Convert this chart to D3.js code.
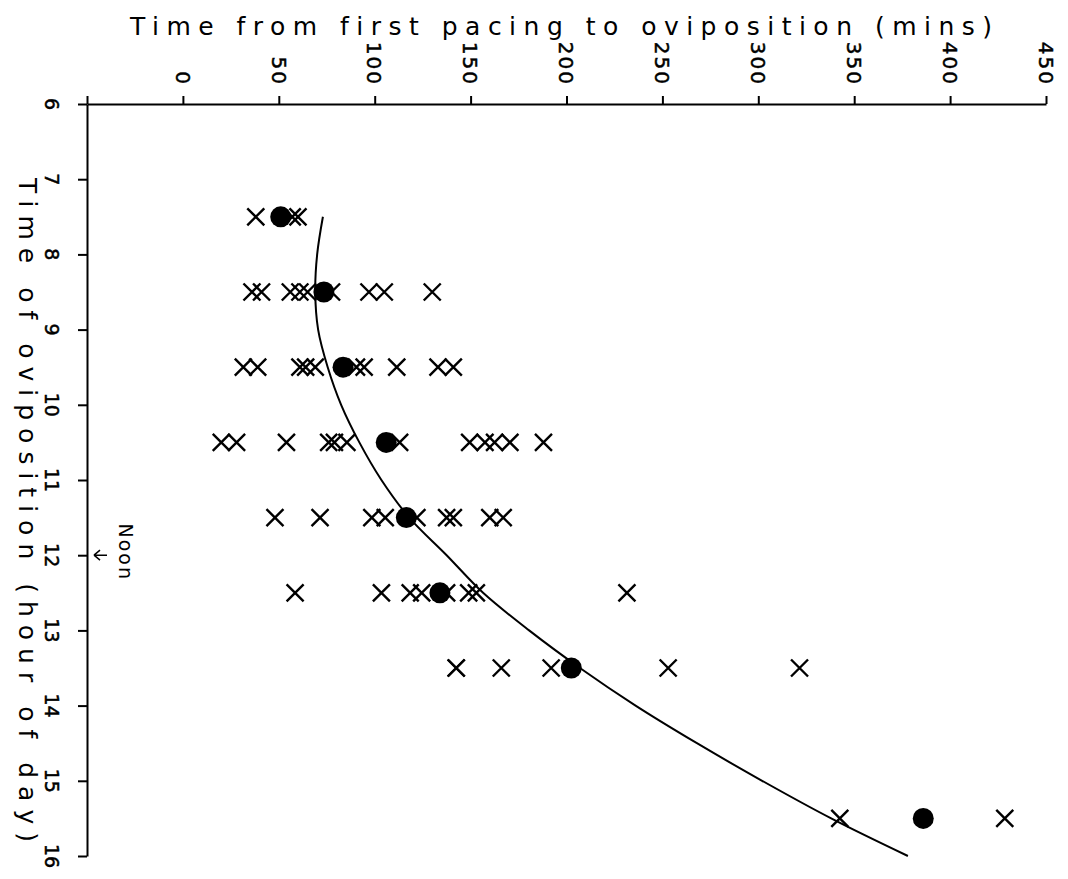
<!DOCTYPE html>
<html>
<head>
<meta charset="utf-8">
<script src="https://cdn.jsdelivr.net/npm/d3@7"></script>
<style>
  body { margin: 0; background: #fff; }
  text { font-family: 'DejaVu Sans', 'Liberation Sans', sans-serif; fill: #000; font-variant-ligatures: none; }
</style>
</head>
<body>
<svg id="chart" width="1068" height="879"></svg>
<script>
// hour of oviposition for each group (rows of the plot)
const rowHours = [7.5, 8.5, 9.5, 10.5, 11.5, 12.5, 13.5, 15.5];

// individual observations (mins from first pacing), one list per row
const rowObs = [
    [38, 57, 60],
    [36, 41, 56, 61, 65, 77.5, 97, 105, 130],
    [31.5, 39, 61, 64, 69, 90.5, 94.5, 111.5, 133, 141],
    [20, 28, 54, 76, 79, 85.5, 113, 149.5, 157.5, 162.5, 170.5, 188],
    [48, 71.5, 98.5, 105.5, 122, 137.5, 141, 160, 167],
    [58.5, 103.5, 118.5, 124.5, 137.5, 149, 153, 231.5],
    [142.5, 142.5, 166, 192, 253, 321.5],
    [342.5, 428.5]
];

// group means (filled dots)
const rowMeans = [51, 73.5, 83.5, 106, 116.5, 134, 202.5, 386];

// fitted curve
const fitHours = [7.5, 8, 8.5, 9, 9.5, 10, 10.5, 11, 11.5, 12, 12.5, 13, 13.5, 14, 14.5, 15, 15.5, 16];
const fitMins = [73, 70, 69, 70.5, 75.5, 82.5, 92, 103.5, 118, 137.5, 156.5, 180.5, 207, 236, 268, 302, 338, 378];

const minTicks = [-50, 0, 50, 100, 150, 200, 250, 300, 350, 400, 450];
const hourTicks = [6, 7, 8, 9, 10, 11, 12, 13, 14, 15, 16];

const svg = d3.select('#chart');

const x = d3.scaleLinear().domain([-50, 450]).range([87, 1046]);
const y = d3.scaleLinear().domain([6, 16]).range([104, 856]);

// top axis (minutes)
svg.append('g')
    .attr('transform', `translate(0,${y(6)})`)
    .call(d3.axisTop(x).tickValues(minTicks).tickSize(8).tickSizeOuter(0).tickFormat(''));

// left axis (hours)
svg.append('g')
    .attr('transform', `translate(${x(-50)},0)`)
    .call(d3.axisLeft(y).tickValues(hourTicks).tickSize(9).tickSizeOuter(0).tickFormat(''));

svg.selectAll('.domain, .tick line')
    .attr('stroke', '#000')
    .attr('stroke-width', 2);

// tick labels, rotated like the rest of the figure
svg.append('g').selectAll('text')
    .data(minTicks.filter(d => d >= 0))
    .join('text')
    .attr('transform', d => `translate(${x(d)},86) rotate(90)`)
    .attr('text-anchor', 'end')
    .attr('dy', '0.36em')
    .style('font-size', '20px')
    .style('letter-spacing', '2px')
    .attr('stroke', '#000')
    .attr('stroke-width', 0.5)
    .text(d => d);

svg.append('g').selectAll('text')
    .data(hourTicks)
    .join('text')
    .attr('transform', d => `translate(52,${y(d)}) rotate(90)`)
    .attr('text-anchor', 'middle')
    .attr('dy', '0.36em')
    .style('font-size', '19px')
    .attr('stroke', '#000')
    .attr('stroke-width', 0.5)
    .text(d => d);

// axis titles
svg.append('text')
    .attr('x', 130)
    .attr('y', 35)
    .attr('textLength', 862)
    .attr('lengthAdjust', 'spacing')
    .style('font-size', '25px')
    .text('Time from first pacing to oviposition (mins)');

svg.append('text')
    .attr('transform', 'translate(28,178) rotate(90)')
    .attr('dy', '0.35em')
    .attr('textLength', 664)
    .attr('lengthAdjust', 'spacing')
    .style('font-size', '25px')
    .text('Time of oviposition (hour of day)');

// noon marker
svg.append('path')
    .attr('d', `M94,${y(12)}H107M94,${y(12)}l6,-5M94,${y(12)}l6,5`)
    .attr('fill', 'none')
    .attr('stroke', '#000')
    .attr('stroke-width', 1.5);

svg.append('text')
    .attr('transform', `translate(126,${y(12) - 3}) rotate(90)`)
    .attr('text-anchor', 'middle')
    .attr('dy', '0.35em')
    .style('font-size', '19px')
    .style('letter-spacing', '2px')
    .text('Noon');

// fitted curve
const line = d3.line()
    .x((d, i) => x(fitMins[i]))
    .y(d => y(d))
    .curve(d3.curveCatmullRom);

svg.append('path')
    .datum(fitHours)
    .attr('d', line)
    .attr('fill', 'none')
    .attr('stroke', '#000')
    .attr('stroke-width', 2);

// observations as crosses
const obs = [];
rowObs.forEach((list, i) => list.forEach(m => obs.push({ hour: rowHours[i], mins: m })));

const S = 8.5;
svg.append('g').selectAll('path')
    .data(obs)
    .join('path')
    .attr('d', d => {
        const cx = x(d.mins), cy = y(d.hour);
        return `M${cx - S},${cy - S}L${cx + S},${cy + S}M${cx - S},${cy + S}L${cx + S},${cy - S}`;
    })
    .attr('stroke', '#000')
    .attr('stroke-width', 2.4)
    .attr('fill', 'none');

// means as filled dots
svg.append('g').selectAll('circle')
    .data(rowMeans)
    .join('circle')
    .attr('cx', d => x(d))
    .attr('cy', (d, i) => y(rowHours[i]))
    .attr('r', 10.5)
    .attr('fill', '#000');
</script>
</body>
</html>
